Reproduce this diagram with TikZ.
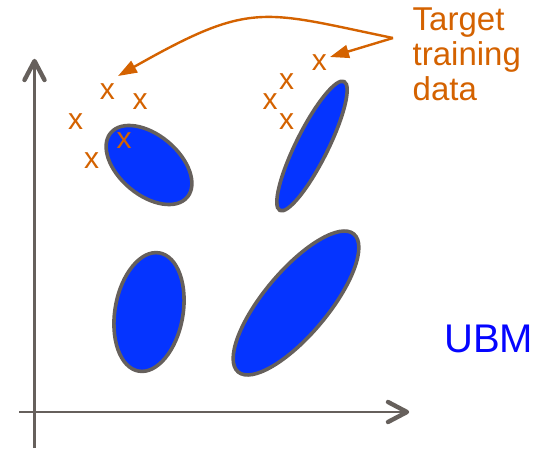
\documentclass[tikz,border=0pt]{standalone}
\usepackage{fontspec}
\setmainfont{Liberation Sans}
\usetikzlibrary{shapes.geometric,arrows.meta}

\definecolor{axisgray}{RGB}{102,96,92}
\definecolor{blobblue}{RGB}{5,52,255}
\definecolor{markorange}{RGB}{212,98,0}
\definecolor{ubmblue}{RGB}{5,5,255}

\tikzset{
  axisline/.style={draw=axisgray, line width=2.4pt},
  chevron/.style={draw=axisgray, line width=4.4pt, line cap=round, line join=round},
  blob/.style={ellipse, draw=axisgray, fill=blobblue, line width=3.6pt, inner sep=0pt},
  sample/.style={text=markorange, inner sep=0pt, font=\fontsize{30}{30}\selectfont},
  legendtext/.style={text=markorange, inner sep=0pt, anchor=base west, font=\fontsize{33}{35}\selectfont},
  pointer/.style={draw=markorange, line width=2.4pt, -{Triangle[length=19pt,width=13pt]}},
}

\begin{document}
\begin{tikzpicture}[x=1pt,y=1pt]
\useasboundingbox (0,0) rectangle (546,448);

% axes
\coordinate (ybot) at (34.5,0);
\coordinate (ytip) at (34.5,387);
\coordinate (xleft) at (19,36);
\coordinate (xtip) at (407,36);
\draw[axisline] (ybot) -- (ytip);
\draw[axisline] (xleft) -- (xtip);
\draw[chevron] ([xshift=-10pt,yshift=-19pt]ytip) -- (ytip) -- ([xshift=10pt,yshift=-19pt]ytip);
\draw[chevron] ([xshift=-19pt,yshift=10pt]xtip) -- (xtip) -- ([xshift=-19pt,yshift=-10pt]xtip);

% mixture components
\node[blob, minimum width=100pt, minimum height=60pt, rotate=-40] (g1) at (149,283) {};
\node[blob, minimum width=144pt, minimum height=32pt, rotate=63.5] (g2) at (312,302) {};
\node[blob, minimum width=120pt, minimum height=68pt, rotate=80] (g3) at (149,136) {};
\node[blob, minimum width=180pt, minimum height=64pt, rotate=50] (g4) at (296,145) {};

% training samples
\node[sample] (p1) at (107.3,356.3) {x};
\node[sample] (p2) at (140,346.3) {x};
\node[sample] (p3) at (75.7,326.3) {x};
\node[sample] (p4) at (124,307.3) {x};
\node[sample] (p5) at (91.7,287.3) {x};
\node[sample] (p6) at (319.3,385.3) {x};
\node[sample] (p7) at (286.7,366.3) {x};
\node[sample] (p8) at (270,346.3) {x};
\node[sample] (p9) at (286.7,326.3) {x};

% legend text
\node[legendtext] (l1) at (412.5,417) {Target};
\node[legendtext] (l2) at (412.5,382) {training};
\node[legendtext] (l3) at (412.5,347) {data};
\node[text=ubmblue, inner sep=0pt, anchor=base west, font=\fontsize{40}{40}\selectfont] (ubm) at (444,96) {UBM};

% pointers from the label to the two sample groups
\coordinate (split) at (393,410);
\coordinate (lefttip) at (118,372);
\coordinate (righttip) at (330,391);
\draw[pointer] (split) .. controls (262,437) and (252,448) .. (lefttip);
\draw[pointer] (split) -- (righttip);
\end{tikzpicture}
\end{document}
